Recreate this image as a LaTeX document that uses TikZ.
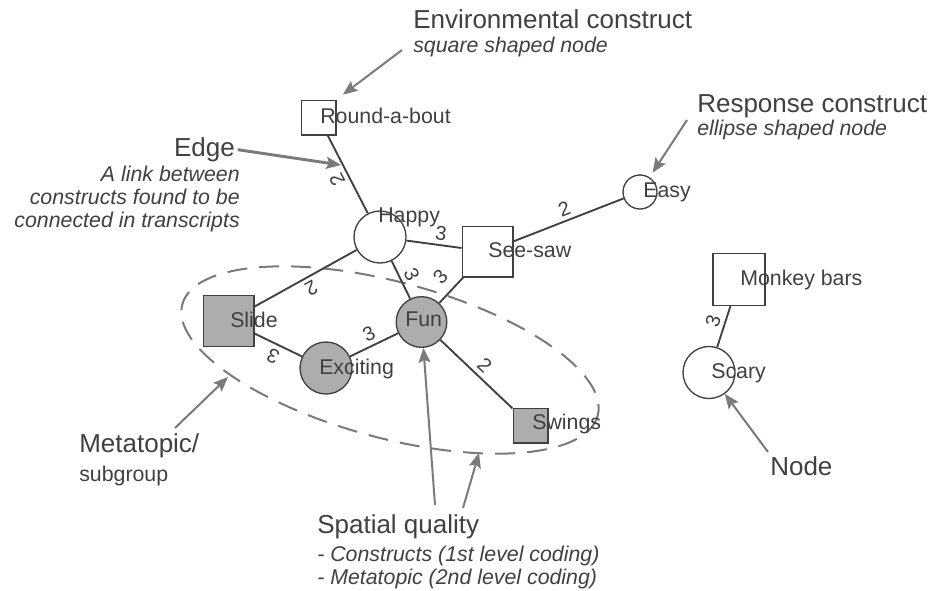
\documentclass[tikz,border=0pt]{standalone}
\usepackage{fontspec}
\setmainfont{Liberation Sans}
\usetikzlibrary{arrows.meta}
\definecolor{ink}{RGB}{64,64,64}
\definecolor{pointergray}{RGB}{122,122,124}
\definecolor{metafill}{RGB}{173,173,176}

\begin{document}
\begin{tikzpicture}[x=.75pt,y=-.75pt,every node/.style={text=ink},
  envnode/.style={draw=ink,line width=1pt,rectangle,minimum size=#1,inner sep=0},
  respnode/.style={draw=ink,line width=1pt,circle,minimum size=#1,inner sep=0},
  meta/.style={fill=metafill},
  nodename/.style={anchor=base west,inner sep=0,font=\fontsize{16}{19}\selectfont},
  link/.style={draw=ink,line width=1.4pt},
  weight/.style={sloped,allow upside down,above=1pt,inner sep=2pt,font=\fontsize{15}{17}\selectfont},
  pointer/.style={draw=pointergray,line width=1.5pt,-{Stealth[length=11pt,width=9pt,inset=2pt]}},
  title/.style={inner sep=0,font=\fontsize{19.5}{23}\selectfont},
  note/.style={inner sep=0,font=\fontsize{16}{17.25}\selectfont\itshape}]
\useasboundingbox(0,0)rectangle(942,590);
% metatopic
\draw[draw=pointergray,line width=1.5pt,dash pattern=on 15pt off 9pt,rotate around={-15:(390,360)}](390,360)ellipse[x radius=215,y radius=78];
% constructs
\node[envnode=26pt](rab)at(318.5,117.5){};
\node[respnode=39pt](happy)at(380,237){};
\node[envnode=38pt](seesaw)at(487.5,251.5){};
\node[respnode=25.5pt](easy)at(640,192){};
\node[envnode=38pt,meta](slide)at(228.5,321){};
\node[respnode=39pt,meta](exciting)at(326,368){};
\node[respnode=38pt,meta](fun)at(421.5,322){};
\node[envnode=26pt,meta](swings)at(530.5,425.5){};
\node[envnode=39pt](monkey)at(739,279.5){};
\node[respnode=39pt](scary)at(709,372.5){};
\draw[link](happy)--node[weight]{2}(rab);
\draw[link](happy)--node[weight,pos=.6]{3}(seesaw);
\draw[link](happy)--node[weight]{3}(fun);
\draw[link](fun)--node[weight,pos=.58,above=4pt]{3}(seesaw);
\draw[link](happy)--node[weight]{2}(slide);
\draw[link](exciting)--node[weight]{3}(slide);
\draw[link](exciting)--node[weight]{3}(fun);
\draw[link](fun)--node[weight]{2}(swings);
\draw[link](seesaw)--node[weight]{2}(easy);
\draw[link](scary)--node[weight,pos=.55]{3}(monkey);
\node[nodename](rabname)at(320,123){Round-a-bout};
\node[nodename](happyname)at(378,222){Happy};
\node[nodename](seesawname)at(488,257){See-saw};
\node[nodename](easyname)at(643,197){Easy};
\node[nodename](slidename)at(230,327){Slide};
\node[nodename](excitingname)at(319,374){Exciting};
\node[nodename](funname)at(405,326){Fun};
\node[nodename](swingsname)at(532,429){Swings};
\node[nodename](monkeyname)at(740,285){Monkey bars};
\node[nodename](scaryname)at(711,378){Scary};
% legend texts
\node[title,anchor=base west](envtitle)at(413,28){Environmental construct};
\node[note,anchor=base west](envsub)at(413,52){square shaped node};
\node[title,anchor=base west](resptitle)at(697,112){Response construct};
\node[note,anchor=base west](respsub)at(697,135){ellipse shaped node};
\node[title,anchor=base east](edgetitle)at(235,156){Edge};
\node[note,anchor=north east,align=right](edgesub)at(240,166){A link between\\constructs found to be\\connected in transcripts};
\node[title,anchor=base west](metatitle)at(79,452){Metatopic/};
\node[nodename](metasub)at(79,481){subgroup};
\node[title,anchor=base west](spattitle)at(317,533){Spatial quality};
\node[note,anchor=north west,align=left](spatsub)at(317,546){- Constructs (1st level coding)\\- Metatopic (2nd level coding)};
\node[title,anchor=base west](nodetitle)at(770,475){Node};
% pointers
\coordinate(envtail)at(402,50);\coordinate(edgehit)at(341,165);\coordinate(resptail)at(687,120);
\coordinate(metatail)at(175,428);\coordinate(metahit)at(228,377);
\coordinate(funtail)at(435,505);\coordinate(spattail)at(463,508);\coordinate(spathit)at(479,453);
\coordinate(nodetail)at(768,452);
\draw[pointer,shorten >=6pt](envtail)--(rab.north east);
\draw[pointer,line width=2.2pt,shorten <=2pt](edgetitle.east)--(edgehit);
\draw[pointer,shorten >=4pt](resptail)--(easy);
\draw[pointer](metatail)--(metahit);
\draw[pointer](funtail)--(fun);
\draw[pointer](spattail)--(spathit);
\draw[pointer](nodetail)--(scary);
\end{tikzpicture}
\end{document}
